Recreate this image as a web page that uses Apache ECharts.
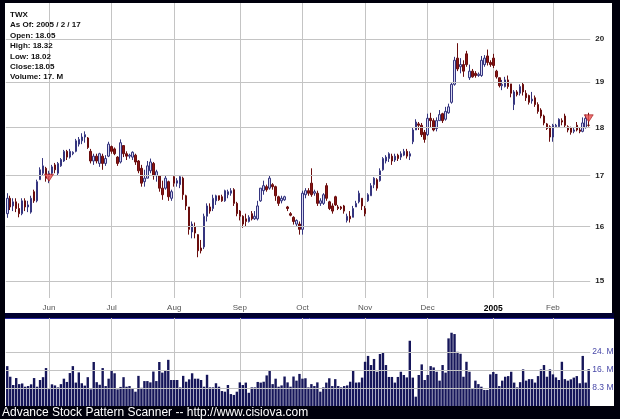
<!DOCTYPE html>
<html><head><meta charset="utf-8">
<script src="https://cdn.jsdelivr.net/npm/echarts@6/dist/echarts.min.js"></script>
<style>html,body{margin:0;padding:0;background:#000;}#c{width:620px;height:419px;}</style>
</head><body><div id="c"></div>
<script>
// ---- DATA ----
const opens = [
16.25,16.55,16.40,16.48,16.35,16.25,16.50,16.38,16.28,16.68,
16.50,16.92,17.05,17.15,16.98,17.05,17.22,17.05,17.20,17.30,
17.50,17.38,17.45,17.50,17.65,17.72,17.80,17.78,17.50,17.30,
17.40,17.25,17.40,17.25,17.40,17.60,17.55,17.38,17.28,17.62,
17.45,17.40,17.38,17.42,17.30,17.15,16.88,16.95,17.10,17.25,
17.00,17.00,16.75,16.75,16.88,16.55,16.98,16.85,16.82,16.95,
16.60,16.38,15.90,16.00,15.85,15.60,15.62,16.20,16.38,16.35,
16.50,16.60,16.58,16.50,16.62,16.65,16.72,16.45,16.30,16.20,
16.15,16.10,16.25,16.15,16.15,16.50,16.70,16.78,16.75,16.82,
16.78,16.58,16.50,16.52,16.38,16.25,16.18,16.05,16.05,15.95,
16.62,16.70,16.85,16.65,16.65,16.45,16.45,16.80,16.48,16.40,
16.58,16.38,16.38,16.40,16.12,16.20,16.18,16.38,16.48,16.55,
16.35,16.50,16.60,16.82,16.92,16.90,17.12,17.30,17.35,17.40,
17.32,17.42,17.38,17.42,17.50,17.40,17.70,17.95,18.08,18.05,
17.90,17.85,18.20,18.15,17.98,18.15,18.30,18.18,18.32,18.55,
18.95,19.55,19.35,19.40,19.65,19.10,19.25,19.20,19.15,19.15,
19.40,19.60,19.45,19.55,19.25,19.10,18.92,18.90,19.05,18.96,
18.50,18.78,18.75,18.95,18.75,18.70,18.58,18.65,18.50,18.38,
18.25,18.08,18.02,17.80,18.02,18.02,18.15,18.25,18.02,18.00,
17.92,18.05,17.95,17.92,18.00,18.05];
const closes = [
16.55,16.38,16.48,16.35,16.25,16.50,16.38,16.42,16.55,16.50,
16.88,17.12,17.20,16.95,17.05,17.18,17.12,17.25,17.33,17.50,
17.38,17.50,17.48,17.72,17.75,17.80,17.85,17.58,17.30,17.40,
17.30,17.45,17.25,17.35,17.65,17.50,17.45,17.25,17.68,17.45,
17.40,17.42,17.48,17.28,17.10,16.85,16.95,17.20,17.28,17.00,
17.08,16.75,16.62,16.95,16.58,16.68,16.85,16.90,16.98,16.62,
16.40,15.95,16.05,15.88,15.55,15.55,16.20,16.40,16.30,16.55,
16.60,16.52,16.50,16.70,16.68,16.70,16.45,16.25,16.20,16.05,
16.10,16.18,16.15,16.20,16.40,16.75,16.80,16.72,16.95,16.78,
16.60,16.45,16.55,16.58,16.35,16.22,16.10,16.12,15.95,16.65,
16.70,16.65,16.62,16.68,16.45,16.50,16.62,16.55,16.35,16.30,
16.42,16.35,16.35,16.30,16.20,16.15,16.35,16.45,16.65,16.40,
16.25,16.62,16.80,16.95,16.75,17.10,17.35,17.38,17.45,17.30,
17.40,17.35,17.45,17.50,17.40,17.45,17.95,18.12,18.05,17.85,
17.75,18.20,18.15,17.95,18.15,18.28,18.15,18.35,18.45,18.95,
19.50,19.30,19.40,19.25,19.40,19.25,19.12,19.15,19.18,19.50,
19.55,19.45,19.40,19.38,19.12,18.92,18.95,19.05,18.90,18.75,
18.78,18.72,18.90,18.78,18.65,18.55,18.62,18.50,18.35,18.25,
18.10,17.98,17.80,18.05,18.05,18.18,18.12,18.05,17.95,17.90,
17.95,17.95,17.92,18.10,18.20,18.05];
const lows = [
16.17,16.32,16.30,16.28,16.18,16.22,16.30,16.28,16.25,16.46,
16.47,16.92,17.00,16.88,16.85,17.00,17.05,17.00,17.18,17.28,
17.32,17.35,17.42,17.48,17.60,17.65,17.68,17.55,17.25,17.22,
17.25,17.18,17.12,17.20,17.38,17.45,17.42,17.20,17.25,17.38,
17.32,17.35,17.32,17.22,17.05,16.78,16.78,16.95,17.05,16.92,
16.88,16.68,16.52,16.72,16.50,16.50,16.78,16.78,16.75,16.52,
16.32,15.85,15.78,15.78,15.43,15.50,15.58,16.10,16.25,16.30,
16.42,16.50,16.48,16.48,16.55,16.60,16.40,16.20,16.12,15.98,
16.00,16.08,16.12,16.13,16.12,16.48,16.62,16.68,16.72,16.72,
16.50,16.40,16.45,16.50,16.30,16.20,16.04,16.00,15.85,15.85,
16.55,16.60,16.58,16.60,16.40,16.40,16.42,16.50,16.32,16.25,
16.40,16.32,16.32,16.25,16.08,16.08,16.18,16.38,16.45,16.32,
16.20,16.48,16.60,16.75,16.70,16.88,17.10,17.25,17.28,17.22,
17.28,17.30,17.32,17.40,17.35,17.32,17.65,17.95,17.95,17.80,
17.68,17.82,18.00,17.92,17.92,18.15,18.10,18.15,18.30,18.52,
18.92,19.25,19.20,19.12,19.35,19.05,19.10,19.10,19.12,19.12,
19.35,19.38,19.35,19.32,19.08,18.88,18.82,18.88,18.85,18.66,
18.38,18.68,18.70,18.70,18.58,18.50,18.52,18.45,18.30,18.20,
18.05,17.95,17.70,17.70,18.00,18.00,18.05,18.00,17.90,17.85,
17.88,17.92,17.88,17.90,17.98,18.02];
const highs = [
16.65,16.60,16.55,16.55,16.45,16.55,16.55,16.50,16.60,16.72,
16.92,17.17,17.36,17.18,17.10,17.22,17.26,17.28,17.36,17.53,
17.53,17.55,17.50,17.76,17.80,17.88,17.92,17.80,17.55,17.45,
17.45,17.47,17.45,17.42,17.70,17.62,17.58,17.40,17.75,17.62,
17.50,17.45,17.50,17.45,17.32,17.22,17.12,17.30,17.35,17.28,
17.12,17.00,16.90,17.00,16.90,16.72,17.00,16.95,17.00,16.98,
16.62,16.38,16.10,16.08,15.86,15.75,16.25,16.45,16.45,16.62,
16.62,16.60,16.62,16.72,16.72,16.75,16.75,16.48,16.32,16.22,
16.25,16.22,16.30,16.30,16.50,16.75,16.90,16.82,17.00,16.85,
16.80,16.60,16.60,16.60,16.40,16.28,16.20,16.14,16.10,16.70,
16.75,16.75,17.15,16.72,16.70,16.55,16.65,16.85,16.50,16.45,
16.60,16.42,16.40,16.42,16.25,16.30,16.40,16.50,16.70,16.55,
16.40,16.65,16.85,16.97,16.95,17.15,17.38,17.42,17.48,17.45,
17.45,17.45,17.50,17.55,17.55,17.50,18.00,18.18,18.12,18.10,
17.95,18.30,18.32,18.20,18.22,18.38,18.32,18.45,18.52,18.98,
19.58,19.90,19.55,19.50,19.72,19.40,19.30,19.25,19.22,19.60,
19.62,19.75,19.50,19.65,19.28,19.10,19.05,19.12,19.15,18.96,
18.82,18.82,18.95,19.00,18.82,18.72,18.78,18.70,18.55,18.42,
18.28,18.10,18.05,18.08,18.08,18.20,18.20,18.30,18.05,18.02,
18.00,18.12,18.00,18.22,18.28,18.32];
// volume in millions of shares
const volumes = [
18.4,13.5,9.7,12.9,10.1,10.4,8.9,9.2,10.0,12.9,
8.9,12.0,13.3,17.5,7.8,10.0,9.5,8.6,10.1,12.6,
11.1,15.2,18.4,10.8,15.5,10.5,9.4,13.3,7.7,20.3,
11.0,9.8,17.5,9.2,12.6,16.5,15.1,7.7,8.8,13.3,
8.9,9.2,8.1,6.6,13.9,8.4,11.5,11.5,10.9,15.9,
11.5,20.3,15.4,16.6,21.3,12.0,12.0,12.0,8.6,13.9,
11.2,12.3,15.1,12.6,12.6,12.0,8.9,14.4,8.6,8.6,
10.5,8.9,6.9,6.6,9.7,5.5,5.1,6.6,10.9,9.7,
10.8,6.1,8.6,8.6,11.1,10.8,11.2,14.1,16.3,10.1,
12.6,8.9,9.5,13.6,10.9,8.9,13.6,11.7,14.8,12.6,
12.8,8.6,10.1,9.2,10.9,6.6,8.6,10.8,12.8,9.2,
12.4,9.2,8.6,9.2,9.5,11.2,16.3,10.8,10.9,13.1,
20.4,23.1,18.9,21.7,15.8,24.0,24.6,18.9,13.4,13.4,
10.8,13.4,15.8,14.3,13.2,30.1,13.1,4.3,14.3,19.2,
12.0,14.3,18.4,17.8,15.8,11.7,18.9,15.4,31.2,33.8,
33.2,25.0,24.1,13.5,20.4,15.8,8.1,11.7,10.1,8.9,
7.4,7.4,14.6,15.7,14.8,9.2,11.7,13.5,13.8,15.8,
10.8,8.6,11.0,16.9,11.7,12.4,12.4,10.8,13.8,16.9,
18.9,13.5,16.9,14.6,13.2,12.0,20.4,12.4,11.7,12.3,
13.1,13.8,10.5,23.1,10.8,17.0];
// trading-day index of the first session of each month
const monthIdx = [14, 35, 56, 78, 99, 120, 141, 163, 183];
const monthLabels = ['Jun','Jul','Aug','Sep','Oct','Nov','Dec','2005','Feb'];
const priceTicks = [15, 16, 17, 18, 19, 20];
const priceTickLabels = ['15','16','17','18','19','20'];
const volTicks = [8.3, 16.6, 24.9];
const volTickLabels = ['8.3 M','16. M','24. M'];
const signalIdx = [14, 195];
const signalPrice = [16.96, 18.20];
const infoLines = ['TWX','As Of: 2005 / 2 / 17','Open: 18.05','High: 18.32','Low: 18.02','Close:18.05','Volume: 17. M'];
const footer = 'Advance Stock Pattern Scanner -- http://www.cisiova.com';

// ---- CHART ----
const FONT = '"Liberation Sans", Arial, sans-serif';
const days = opens.map((_, i) => String(i));
const ohlc = opens.map((o, i) => [o, closes[i], lows[i], highs[i]]);
const isMonth = (i) => monthIdx.indexOf(i) >= 0;

const chart = echarts.init(document.getElementById('c'));
chart.setOption({
  animation: false,
  backgroundColor: '#00000c',
  graphic: [
    {type:'rect', z:-10, silent:true, shape:{x:5, y:3, width:607, height:310}, style:{fill:'#ffffff'}},
    {type:'rect', z:-10, silent:true, shape:{x:5, y:313, width:609, height:5}, style:{fill:'#000030'}},
    {type:'rect', z:-10, silent:true, shape:{x:5, y:318, width:609, height:88}, style:{fill:'#ffffff'}},
    {type:'line', z:-9, silent:true, shape:{x1:5, y1:318.5, x2:614, y2:318.5}, style:{stroke:'#2a2aa0', lineWidth:1}}
  ],
  title: [
    {text: infoLines.join('\n'), left: 10, top: 9.5, padding: 0,
     textStyle: {fontFamily: FONT, fontSize: 8, fontWeight: 'bold', color: '#111', lineHeight: 10.4}},
    {text: footer, left: 2, top: 405.5, padding: 0,
     textStyle: {fontFamily: FONT, fontSize: 12, fontWeight: 'normal', color: '#ffffff', lineHeight: 14}}
  ],
  grid: [
    {left: 5.76, right: 29.8, top: 3, bottom: 121},
    {left: 5.76, right: 29.8, top: 318, bottom: 13}
  ],
  xAxis: [
    {type: 'category', gridIndex: 0, data: days, boundaryGap: true,
     axisLine: {show: false}, axisTick: {show: false},
     axisLabel: {interval: (i) => isMonth(i), margin: 6, hideOverlap: false,
       formatter: (v, i) => { const t = monthLabels[monthIdx.indexOf(i)]; return /^\d+$/.test(t) ? '{y|' + t + '}' : '{m|' + t + '}'; },
       rich: {m: {fontFamily: FONT, fontSize: 8, color: '#555'},
              y: {fontFamily: FONT, fontSize: 8.5, fontWeight: 'bold', color: '#000'}}},
     splitLine: {show: true, interval: (i) => isMonth(i), alignWithLabel: true, lineStyle: {color: '#c4c4c4', width: 1}}},
    {type: 'category', gridIndex: 1, data: days, boundaryGap: true,
     axisLine: {show: false}, axisTick: {show: false}, axisLabel: {show: false},
     splitLine: {show: true, interval: (i) => isMonth(i), alignWithLabel: true, lineStyle: {color: '#c4c4c4', width: 1}}}
  ],
  yAxis: [
    {type: 'log', gridIndex: 0, min: 14.70, max: 20.874, show: false},
    {type: 'value', gridIndex: 1, min: 0, max: 40.6, show: false}
  ],
  series: [
    {type: 'line', xAxisIndex: 0, yAxisIndex: 0, data: [], z: 1, silent: true,
     markLine: {silent: true, symbol: ['none', 'none'], animation: false,
       lineStyle: {color: '#c4c4c4', width: 1, type: 'solid'},
       emphasis: {disabled: true},
       label: {show: true, position: 'end', distance: 5, fontFamily: FONT, fontSize: 8, fontWeight: 'bold', color: '#222'},
       data: priceTicks.map((v, k) => ({yAxis: v, label: {formatter: priceTickLabels[k]}}))}},
    {type: 'line', xAxisIndex: 1, yAxisIndex: 1, data: [], z: 1, silent: true,
     markLine: {silent: true, symbol: ['none', 'none'], animation: false,
       lineStyle: {color: '#c4c4c4', width: 1, type: 'solid'},
       emphasis: {disabled: true},
       label: {show: true, position: 'end', distance: 2, fontFamily: FONT, fontSize: 8.5, color: '#4848a8', padding: [0, 0, 6, 0]},
       data: volTicks.map((v, k) => ({yAxis: v, label: {formatter: volTickLabels[k]}}))}},
    {type: 'candlestick', xAxisIndex: 0, yAxisIndex: 0, data: ohlc, z: 3, barWidth: 2,
     itemStyle: {color: '#d8d8f2', color0: '#8a1414', borderColor: '#35357f', borderColor0: '#6a0d0d', borderWidth: 1}},
    {type: 'scatter', xAxisIndex: 0, yAxisIndex: 0, z: 5, symbol: 'triangle', symbolRotate: 180, symbolSize: [9, 7],
     data: signalIdx.map((d, k) => [d, signalPrice[k]]),
     itemStyle: {color: '#e85050', borderColor: '#a01010', borderWidth: 0.8}},
    {type: 'bar', xAxisIndex: 1, yAxisIndex: 1, data: volumes, barWidth: 2.4, z: 3,
     itemStyle: {color: '#16165a'}}
  ]
});
</script></body></html>
